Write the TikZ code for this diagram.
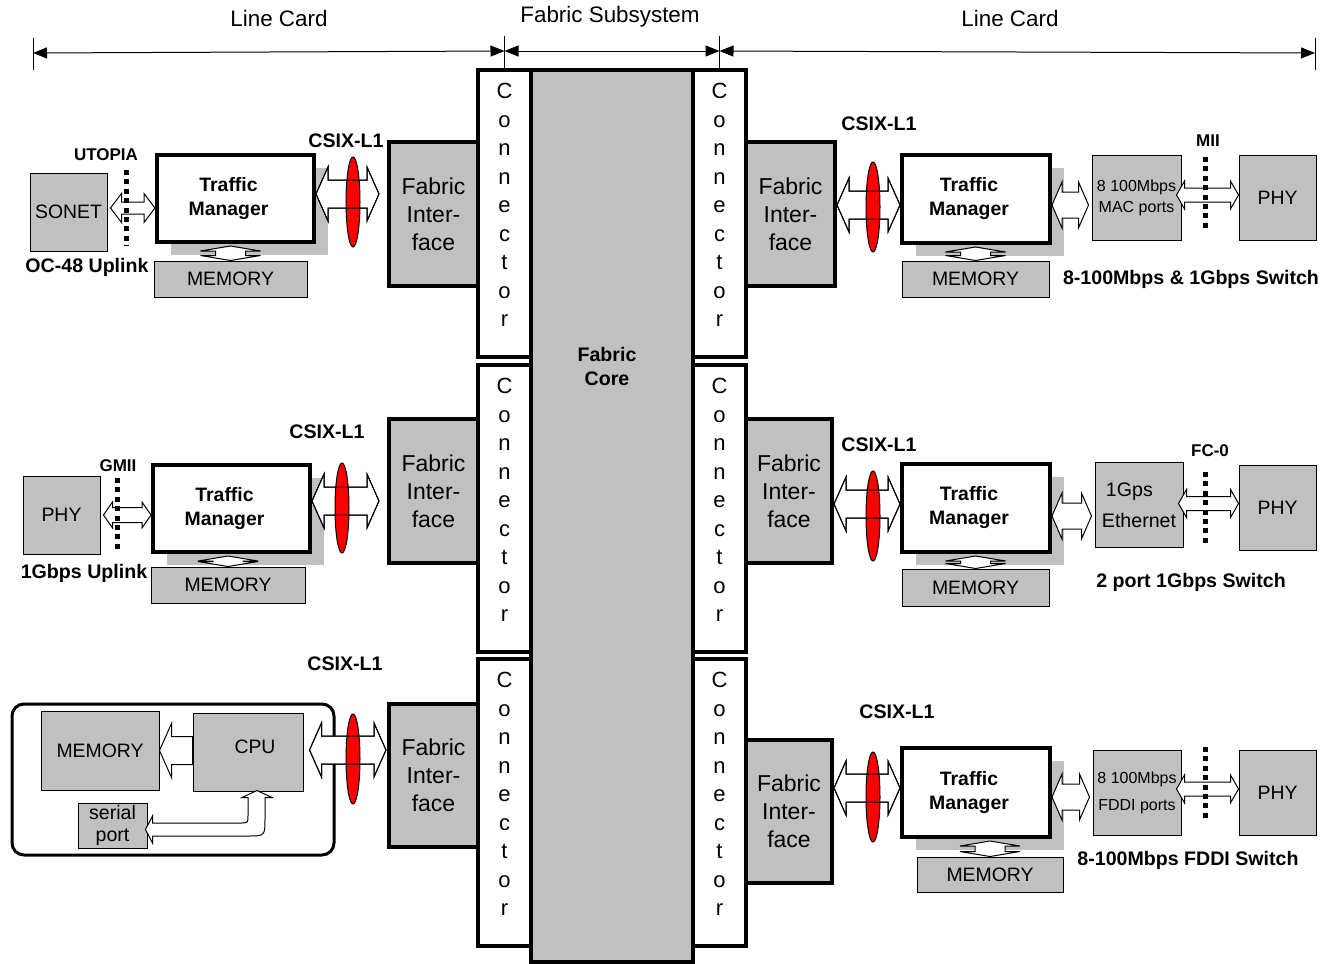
\documentclass[tikz,border=0pt]{standalone}
\usepackage{fontspec}
\setmainfont{Liberation Sans}
\setsansfont{Liberation Sans}
\usepackage{tikz}
\usetikzlibrary{shapes.geometric, arrows.meta, positioning, calc, shadows}
\definecolor{boxgray}{RGB}{192,192,192}
\definecolor{ringred}{RGB}{255,0,0}

\tikzset{
    fabbox/.style={draw, line width=2pt, fill=boxgray, inner sep=0pt},
    ifbox/.style={fabbox, align=center, font=\sffamily\fontsize{11.5}{14}\selectfont},
    connbox/.style={draw, line width=2pt, fill=white, inner sep=0pt, minimum width=26.5pt, minimum height=143.5pt},
    conntext/.style={align=center, inner sep=0pt, font=\sffamily\fontsize{11}{14.25}\selectfont},
    tmtext/.style={align=center, inner sep=0pt, xshift=-3.5pt, font=\sffamily\bfseries\fontsize{9.7}{12}\selectfont},
    tmbox/.style={draw, line width=2pt, fill=white, inner sep=0pt,
        label={[tmtext]center:{Traffic\\Manager}},
        drop shadow={shadow xshift=7pt, shadow yshift=-6.5pt, fill=boxgray, opacity=1}},
    graybox/.style={draw, line width=0.5pt, fill=boxgray, inner sep=0pt, align=center, font=\sffamily\fontsize{9.7}{12}\selectfont},
    memory/.style={graybox, minimum height=18pt},
    tag/.style={font=\sffamily\bfseries\fontsize{9.8}{12}\selectfont, inner sep=0pt},
    iftag/.style={font=\sffamily\bfseries\fontsize{8.5}{10}\selectfont, inner sep=0pt},
    hdr/.style={font=\sffamily\fontsize{11.2}{13}\selectfont, inner sep=0pt},
    ring/.style={ellipse, draw, line width=0.5pt, fill=ringred, inner sep=0pt, minimum width=7pt, minimum height=45pt},
    blockarrow/.style={draw, line width=0.5pt, fill=white},
    arrowline/.style={draw, line width=0.5pt},
    dotline/.style={line width=2.5pt, dash pattern=on 2.5pt off 2.2pt},
    dimline/.style={line width=0.5pt, {Triangle[length=7pt,width=5.5pt]}-{Triangle[length=7pt,width=5.5pt]}}
}

% horizontal block arrow with two heads: [style]{left}{right}{shaft half}{head half}{head length}
\newcommand{\hdarrow}[6][blockarrow]{%
    \path[#1] let \p1=#2, \p2=#3 in
        (\x1,\y1) -- (\x1+#6,\y1+#5) -- (\x1+#6,\y1+#4) -- (\x2-#6,\y1+#4) -- (\x2-#6,\y1+#5) -- (\x2,\y1)
        -- (\x2-#6,\y1-#5) -- (\x2-#6,\y1-#4) -- (\x1+#6,\y1-#4) -- (\x1+#6,\y1-#5) -- cycle;}
% vertical block arrow with two heads: [style]{top}{bottom}{shaft half}{head half}{head length}
\newcommand{\vdarrow}[6][blockarrow]{%
    \path[#1] let \p1=#2, \p2=#3 in
        (\x2,\y1) -- (\x2+#5,\y1-#6) -- (\x2+#4,\y1-#6) -- (\x2+#4,\y2+#6) -- (\x2+#5,\y2+#6) -- (\x2,\y2)
        -- (\x2-#5,\y2+#6) -- (\x2-#4,\y2+#6) -- (\x2-#4,\y1-#6) -- (\x2-#5,\y1-#6) -- cycle;}

\begin{document}
\begin{tikzpicture}[x=0.5pt, y=-0.5pt, font=\sffamily]
    \useasboundingbox (0,0) rectangle (1334,964);

    % Fabric core
    \node[fabbox, minimum width=81pt, minimum height=446pt] (core) at (612,516) {};
    \node[font=\sffamily\bfseries\fontsize{9.8}{12}\selectfont, align=center, inner sep=0pt] (coretext) at (607,366) {Fabric\\Core};

    % Fabric interfaces
    \node[ifbox, minimum width=44.5pt, minimum height=72pt] (fiL1) at (433.5,214) {Fabric\\Inter-\\face};
    \node[ifbox, minimum width=44.5pt, minimum height=72pt] (fiL2) at (433.5,491) {Fabric\\Inter-\\face};
    \node[ifbox, minimum width=44.5pt, minimum height=71.5pt] (fiL3) at (433.5,775.5) {Fabric\\Inter-\\face};
    \node[ifbox, minimum width=44.5pt, minimum height=72pt] (fiR1) at (790.5,214) {Fabric\\Inter-\\face};
    \node[ifbox, minimum width=43pt, minimum height=72pt] (fiR2) at (789,491) {Fabric\\Inter-\\face};
    \node[ifbox, minimum width=43pt, minimum height=71.5pt] (fiR3) at (789,811.5) {Fabric\\Inter-\\face};

    % Connectors
    \node[connbox] (cL1) at (504.5,213.5) {};
    \node[conntext, below=7.5pt of cL1.north] (cL1t) {C\\o\\n\\n\\e\\c\\t\\o\\r};
    \node[connbox] (cL2) at (504.5,508.5) {};
    \node[conntext, below=7.5pt of cL2.north] (cL2t) {C\\o\\n\\n\\e\\c\\t\\o\\r};
    \node[connbox] (cL3) at (504.5,802.5) {};
    \node[conntext, below=7.5pt of cL3.north] (cL3t) {C\\o\\n\\n\\e\\c\\t\\o\\r};
    \node[connbox] (cR1) at (719.5,213.5) {};
    \node[conntext, below=7.5pt of cR1.north] (cR1t) {C\\o\\n\\n\\e\\c\\t\\o\\r};
    \node[connbox] (cR2) at (719.5,508.5) {};
    \node[conntext, below=7.5pt of cR2.north] (cR2t) {C\\o\\n\\n\\e\\c\\t\\o\\r};
    \node[connbox] (cR3) at (719.5,802.5) {};
    \node[conntext, below=7.5pt of cR3.north] (cR3t) {C\\o\\n\\n\\e\\c\\t\\o\\r};

    % Header with extents
    \node[hdr] (hdLeft) at (279,18) {Line Card};
    \node[hdr] (hdMid) at (610,17) {Fabric Subsystem};
    \node[hdr] (hdRight) at (1010,18) {Line Card};
    \coordinate (tkA) at (33,53);
    \coordinate (tkB) at ($(cL1.north)+(0,-17)$);
    \coordinate (tkC) at ($(cR1.north)+(0,-17)$);
    \coordinate (tkD) at (1315,53);
    \draw[line width=0.5pt] ($(tkA)+(0,-15)$) -- ($(tkA)+(0,17)$);
    \draw[line width=0.5pt] ($(tkB)+(0,-15)$) -- (cL1.north);
    \draw[line width=0.5pt] ($(tkC)+(0,-15)$) -- (cR1.north);
    \draw[line width=0.5pt] ($(tkD)+(0,-15)$) -- ($(tkD)+(0,17)$);
    \draw[dimline] (tkA) -- (tkB);
    \draw[dimline] (tkB) -- (tkC);
    \draw[dimline] (tkC) -- (tkD);

    % Line card: OC-48 uplink
    \node[graybox, minimum width=38.5pt, minimum height=39pt] (sonet) at (68.5,212) {SONET};
    \node[tmbox, minimum width=78.5pt, minimum height=43.5pt] (tmL1) at (235.5,198.5) {};
    \node[memory, minimum width=76.5pt] (memL1) at (230.5,279) {MEMORY};
    \vdarrow{($(tmL1.south)+(0,2)$)}{(memL1.north)}{7.5pt}{15pt}{2.5pt}
    \hdarrow{($(sonet.east)+(3,-4)$)}{(tmL1.west)}{3pt}{7.25pt}{5.5pt}
    \draw[dotline] (126,170) -- (126,246);
    \node[iftag] (utopia) at (106,155) {UTOPIA};
    \node[tag] (oc48) at (87,267) {OC-48 Uplink};
    \hdarrow{($(tmL1.east)+(0,-4.5)$)}{($(fiL1.west)+(-8,0)$)}{7pt}{13.5pt}{6pt}
    \node[ring] (ringL1) at (353,202) {};
    \hdarrow[arrowline]{($(tmL1.east)+(0,-4.5)$)}{($(fiL1.west)+(-8,0)$)}{7pt}{13.5pt}{6pt}
    \node[tag] (csixL1) at (346,141) {CSIX-L1};

    % Line card: 1Gbps uplink
    \node[graybox, minimum width=38.5pt, minimum height=39pt] (phyL2) at (61.5,515) {PHY};
    \node[tmbox, minimum width=78.5pt, minimum height=43.5pt] (tmL2) at (231.5,508.5) {};
    \node[memory, minimum width=77pt] (memL2) at (228,585) {MEMORY};
    \vdarrow{($(tmL2.south)+(0,2)$)}{(memL2.north)}{7.5pt}{15pt}{2.5pt}
    \hdarrow{($(phyL2.east)+(3,0)$)}{(tmL2.west)}{3.75pt}{6.5pt}{4.5pt}
    \draw[dotline] (117,478) -- (117,553);
    \node[iftag] (gmii) at (118,466) {GMII};
    \node[tag] (up1g) at (84,573) {1Gbps Uplink};
    \hdarrow{($(tmL2.east)+(0,-7.5)$)}{($(fiL2.west)+(-8,0)$)}{7pt}{13.5pt}{6pt}
    \node[ring] (ringL2) at (342,508) {};
    \hdarrow[arrowline]{($(tmL2.east)+(0,-7.5)$)}{($(fiL2.west)+(-8,0)$)}{7pt}{13.5pt}{6pt}
    \node[tag] (csixL2) at (327,432) {CSIX-L1};

    % Host card with CPU
    \node[draw, line width=1.5pt, rounded corners=6pt, minimum width=161pt, minimum height=75.5pt] (host) at (173,779.5) {};
    \node[graybox, minimum width=59pt, minimum height=39.5pt] (memBL) at (100,750.5) {MEMORY};
    \node[graybox, minimum width=55pt, minimum height=39pt, label={[font=\sffamily\fontsize{9.7}{12}\selectfont, xshift=3.5pt, yshift=2.5pt]center:CPU}] (cpu) at (248,752) {};
    \node[graybox, minimum width=34.5pt, minimum height=22.5pt, font=\sffamily\fontsize{9.8}{11}\selectfont] (serial) at (112.5,825.5) {serial\\port};
    \path[blockarrow] let \p1=(memBL.east), \p2=(cpu.west) in
        (\x1,\y1) -- (\x1+6pt,\y1+13.5pt) -- (\x1+6pt,\y1+7pt) -- (\x2,\y1+7pt)
        -- (\x2,\y1-7pt) -- (\x1+6pt,\y1-7pt) -- (\x1+6pt,\y1-13.5pt) -- cycle;
    \path[blockarrow] let \p1=(cpu.south), \p2=(serial.east) in
        (\x1+4.5pt,\y1+0.5pt) -- (\x1+12pt,\y1-3pt) -- (\x1+8.5pt,\y1-3pt) -- (\x1+8.5pt,\y1-13.5pt)
        .. controls (\x1+8.5pt,\y2-5.25pt) .. (\x1-0.5pt,\y2-5.25pt)
        -- (\x2+2.5pt,\y2-5.25pt) -- (\x2+2.5pt,\y2-8.75pt) -- (\x2-1pt,\y2-2pt)
        -- (\x2+2.5pt,\y2+4.75pt) -- (\x2+2.5pt,\y2+1.25pt) -- (\x1-4pt,\y2+1.25pt)
        .. controls (\x1,\y2+1.25pt) .. (\x1,\y1-12pt) -- (\x1,\y1-3pt) -- (\x1-3pt,\y1-3pt) -- cycle;
    \hdarrow{($(cpu.east)+(6,-2)$)}{($(fiL3.west)+(-1,0)$)}{7pt}{13.5pt}{6pt}
    \node[ring] (ringL3) at (353,759) {};
    \hdarrow[arrowline]{($(cpu.east)+(6,-2)$)}{($(fiL3.west)+(-1,0)$)}{7pt}{13.5pt}{6pt}
    \node[tag] (csixL3) at (345,664) {CSIX-L1};

    % Line card: 8-100Mbps & 1Gbps switch
    \node[tmbox, minimum width=74pt, minimum height=44pt] (tmR1) at (976,199) {};
    \node[memory, minimum width=73.5pt] (memR1) at (975.5,279) {MEMORY};
    \vdarrow{($(tmR1.south)+(0,2)$)}{(memR1.north)}{7.5pt}{15pt}{2.5pt}
    \node[graybox, minimum width=44.5pt, minimum height=42.5pt, font=\sffamily\fontsize{8}{10.5}\selectfont] (macR1) at (1136.5,197.5) {8 100Mbps\\MAC ports};
    \node[graybox, minimum width=38.5pt, minimum height=42.5pt] (phyR1) at (1277.5,197.5) {PHY};
    \hdarrow{($(fiR1.east |- tmR1.west)+(0,6)$)}{(tmR1.west)}{7pt}{13.5pt}{6pt}
    \node[ring] (ringR1) at (873,207) {};
    \hdarrow[arrowline]{($(fiR1.east |- tmR1.west)+(0,6)$)}{(tmR1.west)}{7pt}{13.5pt}{6pt}
    \hdarrow{($(tmR1.east)+(0,6)$)}{($(macR1.west)+(-3,0)$)}{6.5pt}{11.5pt}{5pt}
    \hdarrow{($(macR1.east)+(-5,-2.5)$)}{(phyR1.west)}{3.5pt}{7pt}{4pt}
    \draw[dotline] (1205,157) -- (1205,232);
    \node[iftag] (mii) at (1208,141) {MII};
    \node[tag] (csixR1) at (879,124) {CSIX-L1};
    \node[tag] (swR1) at (1191,279) {8-100Mbps \& 1Gbps Switch};

    % Line card: 2 port 1Gbps switch
    \node[tmbox, minimum width=74pt, minimum height=44pt] (tmR2) at (976,508) {};
    \node[memory, minimum width=73.5pt, minimum height=18.5pt] (memR2) at (975.5,587.5) {MEMORY};
    \vdarrow{($(tmR2.south)+(0,2)$)}{(memR2.north)}{7.5pt}{15pt}{2.5pt}
    \node[graybox, minimum width=44pt, minimum height=42.5pt, align=left, font=\sffamily\fontsize{9.8}{15.5}\selectfont] (ethR2) at (1139,505) {\hspace{2pt}1Gps\\Ethernet};
    \node[graybox, minimum width=38.5pt, minimum height=42.5pt] (phyR2) at (1277.5,507.5) {PHY};
    \hdarrow{($(fiR2.east |- tmR2.west)+(0,-4)$)}{(tmR2.west)}{7pt}{13.5pt}{6pt}
    \node[ring] (ringR2) at (873,516) {};
    \hdarrow[arrowline]{($(fiR2.east |- tmR2.west)+(0,-4)$)}{(tmR2.west)}{7pt}{13.5pt}{6pt}
    \hdarrow{($(tmR2.east)+(0,8)$)}{($(ethR2.west)+(-3,0)$)}{6.5pt}{11.5pt}{5pt}
    \hdarrow{($(ethR2.east)+(-5,-1.5)$)}{(phyR2.west)}{3.5pt}{7pt}{4pt}
    \draw[dotline] (1205,472) -- (1205,547);
    \node[iftag] (fc0) at (1210,451) {FC-0};
    \node[tag] (csixR2) at (879,445) {CSIX-L1};
    \node[tag] (swR2) at (1191,582) {2 port 1Gbps Switch};

    % Line card: 8-100Mbps FDDI switch
    \node[tmbox, minimum width=74pt, minimum height=44.5pt] (tmR3) at (976,792.5) {};
    \node[memory, minimum width=73pt, minimum height=17.5pt] (memR3) at (990,874.5) {MEMORY};
    \vdarrow{($(tmR3.south)+(0,2)$)}{(memR3.north)}{7.5pt}{15pt}{2.5pt}
    \node[graybox, minimum width=44pt, minimum height=42.5pt, font=\sffamily\fontsize{8}{13.5}\selectfont] (fddiR3) at (1137,792.5) {8 100Mbps\\FDDI ports};
    \node[graybox, minimum width=38.5pt, minimum height=42.5pt] (phyR3) at (1277.5,792.5) {PHY};
    \hdarrow{($(fiR3.east |- tmR3.west)+(0,-4.5)$)}{(tmR3.west)}{7pt}{13.5pt}{6pt}
    \node[ring] (ringR3) at (873,797) {};
    \hdarrow[arrowline]{($(fiR3.east |- tmR3.west)+(0,-4.5)$)}{(tmR3.west)}{7pt}{13.5pt}{6pt}
    \hdarrow{($(tmR3.east)+(0,4.5)$)}{($(fddiR3.west)+(-3,0)$)}{6.5pt}{11.5pt}{5pt}
    \hdarrow{($(fddiR3.east)+(-5,-3.5)$)}{(phyR3.west)}{3.5pt}{7pt}{4pt}
    \draw[dotline] (1205,747) -- (1205,822);
    \node[tag] (csixR3) at (897,712) {CSIX-L1};
    \node[tag] (swR3) at (1188,860) {8-100Mbps FDDI Switch};
\end{tikzpicture}
\end{document}
